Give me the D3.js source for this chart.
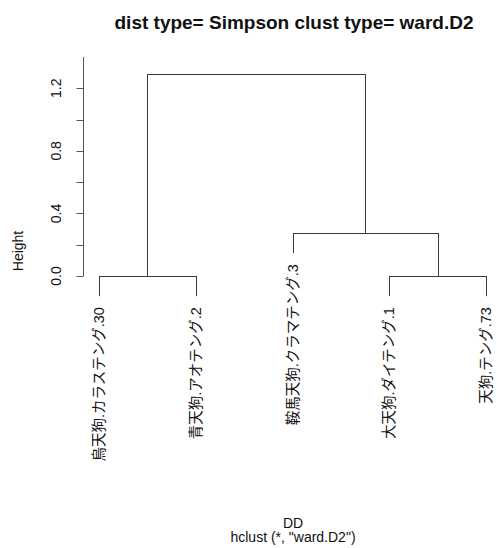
<!DOCTYPE html>
<html>
<head>
<meta charset="utf-8">
<script src="https://cdn.jsdelivr.net/npm/d3@7"></script>
<style>
  html, body { margin: 0; padding: 0; background: #fff; }
  svg { display: block; }
  text { font-family: "Liberation Sans", Arial, "Noto Sans CJK JP", sans-serif; fill: #111; }
</style>
</head>
<body>
<svg id="chart" width="497" height="548"></svg>
<script>
// Leaves in dendrogram order
const leafLabels = [
  "烏天狗.カラステング.30",
  "青天狗.アオテング.2",
  "鞍馬天狗.クラマテング.3",
  "大天狗.ダイテング.1",
  "天狗.テング.73"
];
// Merge steps (R hclust convention: negative = leaf index, positive = earlier step)
const mergeLeft  = [-1, -4, -3, 1];
const mergeRight = [-2, -5,  2, 3];
const mergeHeights = [0.0, 0.0, 0.275, 1.29];
const yTicks = [0, 0.2, 0.4, 0.6, 0.8, 1.0, 1.2];
const yTickLabels = ["0.0", "", "0.4", "", "0.8", "", "1.2"];

const titleText = "dist type= Simpson clust type= ward.D2";
const xLabelText = "DD";
const subText = 'hclust (*, "ward.D2")';
const yLabelText = "Height";

const svg = d3.select("#chart");
const x = d3.scalePoint().domain(leafLabels).range([99, 486]);
const y = d3.scaleLinear().domain([0, 1.4]).range([276, 57]);
const hang = 0.1 * d3.max(mergeHeights);
const stroke = "#3a3a3a";

// Resolve each node's x position and height
const nodes = [];
function nodeInfo(id) {
  if (id < 0) return { x: x(leafLabels[-id - 1]), h: null, leaf: -id - 1 };
  return nodes[id - 1];
}
mergeHeights.forEach((h, i) => {
  const a = nodeInfo(mergeLeft[i]), b = nodeInfo(mergeRight[i]);
  nodes.push({ x: (a.x + b.x) / 2, h: h, a: a, b: b });
});

const g = svg.append("g");
const leafEnds = [];
nodes.forEach(n => {
  [n.a, n.b].forEach(c => {
    const bottom = c.h === null ? n.h - hang : c.h;
    if (c.h === null) leafEnds[c.leaf] = n.h - hang;
    g.append("line")
      .attr("x1", Math.round(c.x) + 0.5).attr("x2", Math.round(c.x) + 0.5)
      .attr("y1", y(n.h)).attr("y2", y(bottom))
      .attr("stroke", stroke).attr("stroke-width", 1);
  });
  g.append("line")
    .attr("x1", Math.round(n.a.x) + 0.5).attr("x2", Math.round(n.b.x) + 0.5)
    .attr("y1", Math.round(y(n.h)) + 0.5).attr("y2", Math.round(y(n.h)) + 0.5)
    .attr("stroke", stroke).attr("stroke-width", 1);
});

// Leaf labels, rotated, hanging below each leaf end
leafLabels.forEach((lab, i) => {
  const lx = x(lab), ly = y(leafEnds[i]) + 11;
  svg.append("text")
    .attr("transform", `translate(${lx},${ly}) rotate(-90)`)
    .attr("text-anchor", "end")
    .attr("dy", "0.36em")
    .attr("font-size", 14.5)
    .text(lab);
});

// Y axis
const axis = svg.append("g").attr("transform", "translate(83.5,0)");
axis.append("line").attr("y1", y(0)).attr("y2", y(1.4)).attr("stroke", "#555");
yTicks.forEach((t, i) => {
  axis.append("line").attr("x1", -7).attr("x2", 0)
    .attr("y1", Math.round(y(t)) + 0.5).attr("y2", Math.round(y(t)) + 0.5)
    .attr("stroke", "#555");
  if (yTickLabels[i]) {
    axis.append("text")
      .attr("transform", `translate(-28,${y(t)}) rotate(-90)`)
      .attr("text-anchor", "middle")
      .attr("dy", "0.36em")
      .attr("font-size", 14)
      .text(yTickLabels[i]);
  }
});

svg.append("text")
  .attr("transform", "translate(18,251) rotate(-90)")
  .attr("text-anchor", "middle").attr("dy", "0.36em")
  .attr("font-size", 14).text(yLabelText);

svg.append("text")
  .attr("x", 294).attr("y", 29)
  .attr("text-anchor", "middle")
  .attr("font-size", 19).attr("font-weight", "bold")
  .text(titleText);

svg.append("text")
  .attr("x", 293).attr("y", 527.5)
  .attr("text-anchor", "middle").attr("font-size", 14).text(xLabelText);
svg.append("text")
  .attr("x", 293).attr("y", 542)
  .attr("text-anchor", "middle").attr("font-size", 14).text(subText);
</script>
</body>
</html>
